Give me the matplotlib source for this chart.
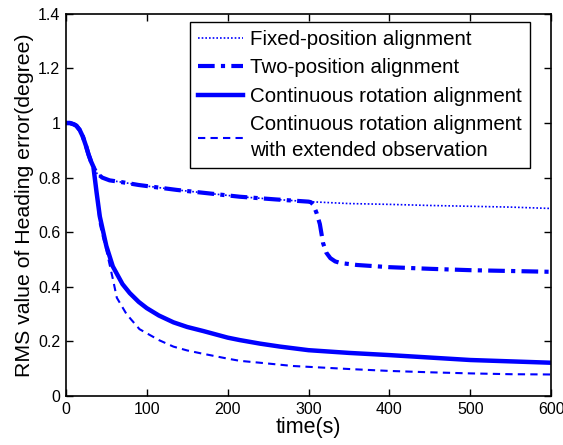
import numpy as np
import matplotlib
matplotlib.use("Agg")
import matplotlib.pyplot as plt

plt.rcParams['font.family'] = ['Liberation Sans', 'DejaVu Sans']

# shared start of all curves
t_start = [0, 5, 10, 13, 17, 21, 25, 28, 31, 34]
v_start = [1.0, 1.0, 0.995, 0.99, 0.975, 0.95, 0.915, 0.885, 0.86, 0.84]

# fixed-position alignment
t_fixed = [38, 45, 54, 70, 90, 137, 215, 260, 300, 350, 400, 450, 500, 550, 600]
v_fixed = [0.817, 0.80, 0.79, 0.783, 0.773, 0.755, 0.73, 0.72, 0.712, 0.705,
           0.702, 0.698, 0.695, 0.692, 0.687]

# two-position alignment (after the switch at 300 s)
t_two = [303, 306, 310, 314, 318, 322, 327, 333, 340, 360, 400, 450, 500, 550, 600]
v_two = [0.71, 0.70, 0.67, 0.63, 0.56, 0.525, 0.505, 0.493, 0.487, 0.48,
         0.472, 0.466, 0.461, 0.458, 0.455]

# continuous rotation alignment
t_cont = [38, 42, 50, 58, 70, 79, 90, 100, 115, 133, 150, 170, 200, 215, 240,
          265, 300, 350, 400, 450, 500, 550, 600]
v_cont = [0.745, 0.657, 0.55, 0.475, 0.41, 0.377, 0.345, 0.322, 0.295, 0.27,
          0.253, 0.238, 0.214, 0.205, 0.192, 0.181, 0.168, 0.158, 0.150,
          0.141, 0.132, 0.127, 0.122]

# continuous rotation alignment with extended observation
t_ext = [38, 42, 46, 50, 58, 63, 75, 91, 100, 115, 133, 150, 166, 200, 215,
         240, 281, 300, 350, 400, 450, 500, 550, 600]
v_ext = [0.74, 0.63, 0.58, 0.535, 0.43, 0.36, 0.30, 0.245, 0.23, 0.205, 0.181,
         0.167, 0.157, 0.137, 0.129, 0.122, 0.11, 0.107, 0.099, 0.092, 0.087,
         0.083, 0.08, 0.079]

labels = ['Fixed-position alignment',
          'Two-position alignment',
          'Continuous rotation alignment',
          'Continuous rotation alignment\nwith extended observation']

blue = '#0000FF'

fig = plt.figure(figsize=(5.63, 4.45), dpi=100)
ax = fig.add_axes([0.117, 0.110, 0.862, 0.859])

tf = t_start + t_fixed
vf = v_start + v_fixed
i300 = t_fixed.index(300)
t2 = t_start + t_fixed[:i300 + 1] + t_two
v2 = v_start + v_fixed[:i300 + 1] + v_two

ax.plot(tf, vf, color=blue, lw=1.2, ls=(0, (1, 1.2)), label=labels[0])
ax.plot(t2, v2, color=blue, lw=3.0, ls=(0, (4, 1.5, 1, 1.5)), label=labels[1])
ax.plot(t_start + t_cont, v_start + v_cont, color=blue, lw=3.2, ls='-',
        label=labels[2])
ax.plot(t_start + t_ext, v_start + v_ext, color=blue, lw=1.5,
        ls=(0, (3.5, 2.5)), label=labels[3])

ax.set_xlim(0, 600)
ax.set_ylim(0, 1.4)
ax.set_xticks([0, 100, 200, 300, 400, 500, 600])
ax.set_yticks([0, 0.2, 0.4, 0.6, 0.8, 1.0, 1.2, 1.4])
ax.set_yticklabels(['0', '0.2', '0.4', '0.6', '0.8', '1', '1.2', '1.4'])
ax.tick_params(direction='in', top=True, right=True, length=5, width=1,
               labelsize=11.5, pad=4)
for s in ax.spines.values():
    s.set_linewidth(1.2)

ax.set_xlabel('time(s)', fontsize=15.5, labelpad=0)
ax.set_ylabel('RMS value of Heading error(degree)', fontsize=15.3, labelpad=3)

leg = ax.legend(loc='upper right', fontsize=14.8, handlelength=2.2,
                handletextpad=0.33, borderpad=0.4, labelspacing=0.45,
                borderaxespad=0, fancybox=False, framealpha=1,
                edgecolor='black', bbox_to_anchor=(530 / 563, 1 - 22 / 445),
                bbox_transform=fig.transFigure)
leg.get_frame().set_linewidth(1.0)
leg.get_texts()[3].set_linespacing(1.45)

fig.savefig('out.png', dpi=100)
